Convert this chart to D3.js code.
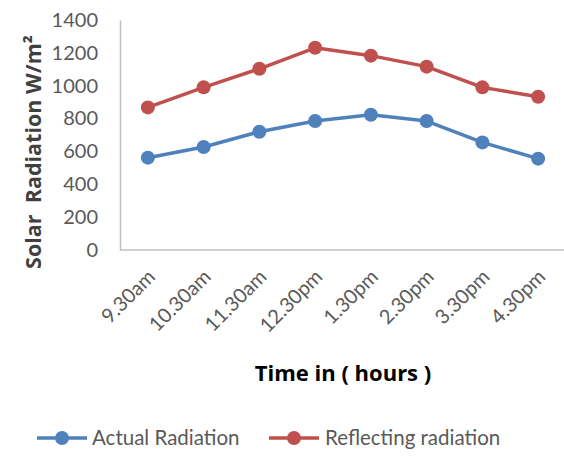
<!DOCTYPE html>
<html><head><meta charset="utf-8">
<script src="https://cdn.jsdelivr.net/npm/d3@7"></script>
<style>body{margin:0;background:#fff;} svg{display:block;}</style>
</head><body>
<svg id="c" width="564" height="459"></svg>
<script>
const categories = ["9.30am","10.30am","11.30am","12.30pm","1.30pm","2.30pm","3.30pm","4.30pm"];
const actualRadiation = [562, 627, 720, 785, 823, 785, 655, 556];
const reflectingRadiation = [868, 990, 1103, 1231, 1183, 1116, 990, 933];
const yTicks = [0, 200, 400, 600, 800, 1000, 1200, 1400];
const seriesNames = ["Actual Radiation", "Reflecting radiation"];
const colors = ["#4f81bd", "#c0504d"];

const svg = d3.select("#c");
const font = "Lato, 'Open Sans', sans-serif";
const tfont = "'Open Sans', Lato, sans-serif";
const x = d3.scalePoint().domain(categories).range([120, 566]).padding(0.5);
const y = d3.scaleLinear().domain([0, 1400]).range([250, 20]);

// y axis
const ya = svg.append("g").attr("transform","translate(120,0)")
  .call(d3.axisLeft(y).tickValues(yTicks).tickFormat(d3.format("d")).tickSize(0).tickPadding(22));
ya.select(".domain").attr("stroke","#bfbfbf").attr("stroke-width",1.5);
ya.selectAll("text").attr("font-family",font).attr("font-size",20).attr("fill","#595959");

// x axis
const xa = svg.append("g").attr("transform","translate(0,250)")
  .call(d3.axisBottom(x).tickSize(0).tickPadding(0));
xa.select(".domain").attr("stroke","#bfbfbf").attr("stroke-width",1.5).attr("d","M120,0H566");
xa.selectAll("text").attr("font-family",font).attr("font-size",20).attr("fill","#595959")
  .attr("text-anchor","end").attr("dy",null).attr("y",0)
  .attr("transform","translate(8,28) rotate(-45)");

const series = [actualRadiation, reflectingRadiation];
const line = d3.line().x((d,i)=>x(categories[i])).y(d=>y(d));
series.forEach((s,k)=>{
  svg.append("path").datum(s).attr("d",line).attr("fill","none")
    .attr("stroke",colors[k]).attr("stroke-width",3.5).attr("stroke-linejoin","round");
  svg.selectAll(null).data(s).enter().append("circle")
    .attr("cx",(d,i)=>x(categories[i])).attr("cy",d=>y(d)).attr("r",7).attr("fill",colors[k]);
});

// axis titles
svg.append("text").attr("transform","translate(41,152) rotate(-90)").attr("text-anchor","middle")
  .attr("font-family",tfont).attr("font-weight","bold").attr("font-size",21.5).attr("fill","#404040")
  .style("white-space","pre").text("Solar  Radiation W/m²");
svg.append("text").attr("x",343).attr("y",381).attr("text-anchor","middle")
  .attr("font-family",tfont).attr("font-weight","bold").attr("font-size",22).attr("fill","#000")
  .text("Time in ( hours )");

// legend
const lg = [{x0:37, tx:92},{x0:269, tx:325}];
lg.forEach((p,k)=>{
  svg.append("line").attr("x1",p.x0).attr("x2",p.x0+50).attr("y1",438).attr("y2",438)
    .attr("stroke",colors[k]).attr("stroke-width",3.5);
  svg.append("circle").attr("cx",p.x0+25).attr("cy",438).attr("r",7).attr("fill",colors[k]);
  svg.append("text").attr("x",p.tx).attr("y",445).attr("font-family",font).attr("font-size",20.5)
    .attr("fill","#595959").text(seriesNames[k]);
});
</script>
</body></html>
